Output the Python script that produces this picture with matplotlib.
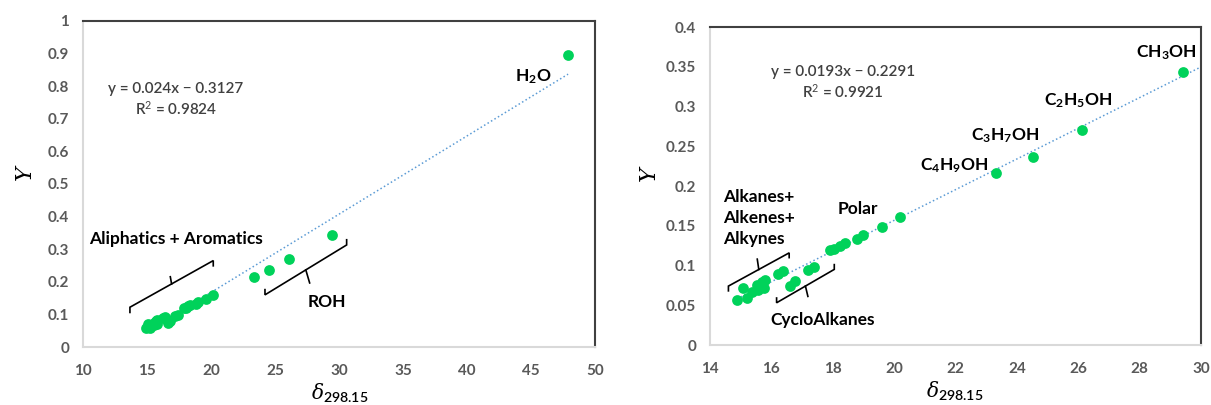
import matplotlib
matplotlib.use('Agg')
import matplotlib.pyplot as plt
from matplotlib.ticker import FuncFormatter, MultipleLocator
import numpy as np

plt.rcParams['font.family'] = ['Lato', 'DejaVu Sans']
plt.rcParams['mathtext.fontset'] = 'custom'
plt.rcParams['mathtext.rm'] = 'Lato'
plt.rcParams['mathtext.bf'] = 'Lato:bold'
plt.rcParams['mathtext.it'] = 'DejaVu Serif:italic'
plt.rcParams['mathtext.sf'] = 'Lato:semibold'

# solubility parameter vs Y
delta = [14.89, 15.09, 15.20, 15.36, 15.52, 15.57, 15.68, 15.79, 15.75,
         16.23, 16.39, 16.61, 16.77, 17.20, 17.39, 17.91, 18.04, 18.24,
         18.40, 18.80, 19.00, 19.60, 20.19, 23.33, 24.53, 26.13, 29.42, 47.90]
yvals = [0.057, 0.072, 0.059, 0.067, 0.075, 0.069, 0.079, 0.082, 0.072,
         0.090, 0.093, 0.074, 0.081, 0.094, 0.098, 0.119, 0.121, 0.125,
         0.128, 0.133, 0.138, 0.148, 0.161, 0.216, 0.237, 0.270, 0.344, 0.895]

# fits shown on the two panels
fit_left = (0.024, -0.3127, 0.9824)
fit_right = (0.0193, -0.2291, 0.9921)

green = '#00d25a'
blue = '#5b9bd5'
tick_col = '#595959'
eq_col = '#404040'

fig = plt.figure(figsize=(12.11, 4.05), dpi=100)
ax1 = fig.add_axes([0.0685, 0.1432, 0.4228, 0.805])
ax2 = fig.add_axes([0.5863, 0.148, 0.4054, 0.785])


def style(ax):
    for s in ['left', 'bottom']:
        ax.spines[s].set_color('#d9d9d9')
        ax.spines[s].set_linewidth(1.5)
    for s in ['top', 'right']:
        ax.spines[s].set_color('#404040')
        ax.spines[s].set_linewidth(1.5)
    ax.tick_params(length=0, colors=tick_col, labelsize=11)
    ax.tick_params(axis='y', pad=10)
    ax.tick_params(axis='x', pad=12)
    for t in ax.get_xticklabels() + ax.get_yticklabels():
        t.set_fontweight('bold')
    ax.xaxis.set_major_formatter(FuncFormatter(lambda v, p: '%g' % v))
    ax.yaxis.set_major_formatter(FuncFormatter(lambda v, p: '%g' % round(v, 3)))


def brace(ax, x0, y0, x1, y1, hook, stem, stem_dx=0):
    # bracket drawn as a line with end hooks and a middle stem
    xm, ym = (x0 + x1) / 2, (y0 + y1) / 2
    ax.plot([x0, x0, x1, x1], [y0 + hook, y0, y1, y1 + hook], color='black', lw=1.2,
            solid_joinstyle='miter')
    ax.plot([xm, xm + stem_dx], [ym, ym + stem], color='black', lw=1.2)


def axis_labels(ax, yx, yy, xx, xy):
    ax.text(yx, yy, 'Y', transform=ax.transAxes, rotation=90, ha='center', va='center',
            fontsize=16, fontstyle='italic', family='DejaVu Serif')
    ax.text(xx, xy, r'$\delta_{\mathsf{298.15}}$', transform=ax.transAxes,
            ha='center', va='center', fontsize=14.5, color='black')


# ---- left panel
ax1.scatter(delta, yvals, s=60, color=green, zorder=3, linewidths=0)
xl = np.array([min(delta), max(delta)])
ax1.plot(xl, fit_left[0] * xl + fit_left[1], ls=':', color=blue, lw=1.1, zorder=2)
ax1.set_xlim(10, 50)
ax1.set_ylim(0, 1)
ax1.xaxis.set_major_locator(MultipleLocator(5))
ax1.yaxis.set_major_locator(MultipleLocator(0.1))
style(ax1)
ax1.text(17.27, 0.79, 'y = %.3fx \u2212 %.4f' % (fit_left[0], -fit_left[1]),
         ha='center', va='center', color=eq_col, fontsize=11, fontweight='semibold')
ax1.text(17.27, 0.73, 'R$^2$ = %.4f' % fit_left[2], ha='center', va='center',
         color=eq_col, fontsize=11, fontweight='semibold')
ax1.text(45.2, 0.83, r'$\mathbf{H_2O}$', ha='center', va='center', fontsize=12.5)
ax1.text(10.5, 0.331, 'Aliphatics + Aromatics', ha='left', va='center',
         fontsize=12.5, fontweight='bold')
ax1.text(29.04, 0.139, 'ROH', ha='center', va='center', fontsize=12.5, fontweight='bold')
brace(ax1, 13.67, 0.122, 20.18, 0.265, -0.016, 0.022, -0.1)
brace(ax1, 24.22, 0.16, 30.6, 0.313, 0.016, -0.04, 0.3)
axis_labels(ax1, -0.113, 0.534, 0.501, -0.142)

# ---- right panel
ax2.scatter(delta, yvals, s=60, color=green, zorder=3, linewidths=0)
xr = np.array([min(delta), 30])
ax2.plot(xr, fit_right[0] * xr + fit_right[1], ls=':', color=blue, lw=1.1, zorder=2)
ax2.set_xlim(14, 30)
ax2.set_ylim(0, 0.4)
ax2.xaxis.set_major_locator(MultipleLocator(2))
ax2.yaxis.set_major_locator(MultipleLocator(0.05))
style(ax2)
ax2.text(18.32, 0.344, 'y = %.4fx \u2212 %.4f' % (fit_right[0], -fit_right[1]),
         ha='center', va='center', color=eq_col, fontsize=11, fontweight='semibold')
ax2.text(18.32, 0.319, 'R$^2$ = %.4f' % fit_right[2], ha='center', va='center',
         color=eq_col, fontsize=11, fontweight='semibold')
ax2.text(28.86, 0.368, r'$\mathbf{CH_3OH}$', ha='center', va='center', fontsize=12.5)
ax2.text(25.99, 0.308, r'$\mathbf{C_2H_5OH}$', ha='center', va='center', fontsize=12.5)
ax2.text(23.61, 0.263, r'$\mathbf{C_3H_7OH}$', ha='center', va='center', fontsize=12.5)
ax2.text(21.94, 0.2256, r'$\mathbf{C_4H_9OH}$', ha='center', va='center', fontsize=12.5)
ax2.text(18.82, 0.171, 'Polar', ha='center', va='center', fontsize=12.5, fontweight='bold')
ax2.text(14.43, 0.160, 'Alkanes+\nAlkenes+\nAlkynes', ha='left', va='center',
         fontsize=12.5, fontweight='bold', linespacing=1.4)
ax2.text(17.68, 0.0314, 'CycloAlkanes', ha='center', va='center', fontsize=12.5,
         fontweight='bold')
brace(ax2, 14.6, 0.0742, 16.58, 0.116, -0.006, 0.013, -0.05)
brace(ax2, 16.17, 0.0532, 18.05, 0.0952, 0.006, -0.013, 0.08)
axis_labels(ax2, -0.124, 0.54, 0.498, -0.145)

fig.savefig('out.png', dpi=100, facecolor='white')
